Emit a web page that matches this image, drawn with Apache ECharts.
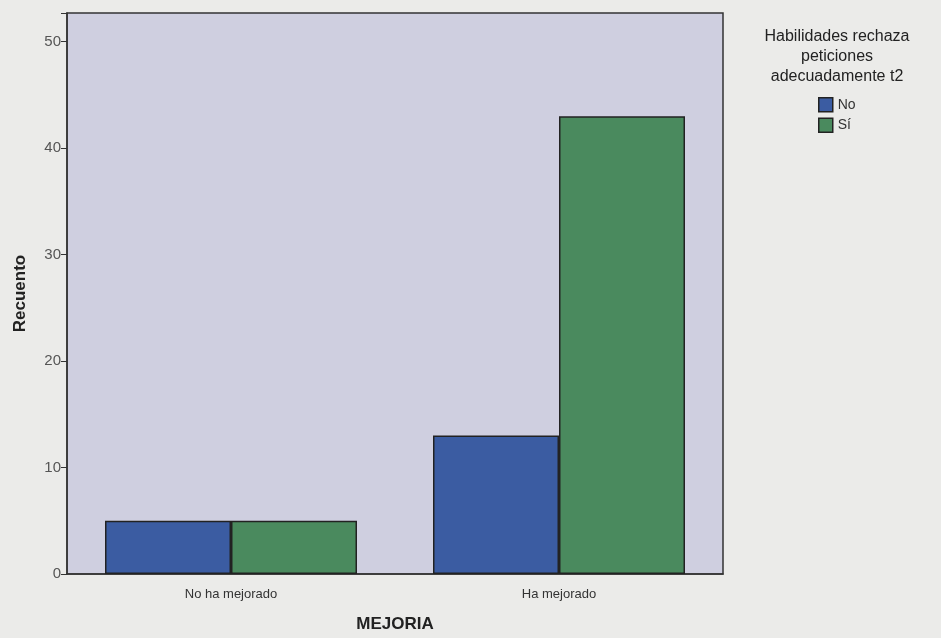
<!DOCTYPE html>
<html>
<head>
<meta charset="utf-8">
<script src="https://cdn.jsdelivr.net/npm/echarts@6/dist/echarts.min.js"></script>
<style>
  html, body { margin: 0; padding: 0; background: #ebebe9; }
  #main { width: 941px; height: 638px; }
</style>
</head>
<body>
<div id="main"></div>
<script>
// datos del grafico
var categorias = ['No ha mejorado', 'Ha mejorado'];
var serieNo = [5, 13];
var serieSi = [5, 43];
var nombresSerie = ['No', 'Sí'];
var tituloLeyenda = 'Habilidades rechaza\npeticiones\nadecuadamente t2';

var fuente = '"Liberation Sans", Arial, sans-serif';
var chart = echarts.init(document.getElementById('main'));

var option = {
  animation: false,
  backgroundColor: '#ebebe9',
  textStyle: { fontFamily: fuente },
  title: {
    text: tituloLeyenda,
    left: 832,
    top: 22,
    textAlign: 'center',
    textStyle: { fontSize: 16, fontWeight: 'normal', color: '#222', lineHeight: 20, fontFamily: fuente }
  },
  legend: {
    data: nombresSerie,
    orient: 'vertical',
    left: 813,
    top: 92,
    itemWidth: 14,
    itemHeight: 14,
    itemGap: 5,
    icon: 'rect',
    textStyle: { fontSize: 14, color: '#333', fontFamily: fuente },
    itemStyle: { borderColor: '#222', borderWidth: 1.5 }
  },
  grid: {
    left: 67,
    right: 218,
    top: 13,
    bottom: 62,
    show: true,
    backgroundColor: '#cfcfe0',
    borderColor: '#333',
    borderWidth: 1.5
  },
  xAxis: {
    type: 'category',
    data: categorias,
    name: 'MEJORIA',
    nameLocation: 'middle',
    nameGap: 42,
    nameTextStyle: { fontSize: 17, fontWeight: 'bold', color: '#222' },
    axisLine: { lineStyle: { color: '#333', width: 1.5 } },
    axisTick: { alignWithLabel: true, length: 10, lineStyle: { color: '#333' } },
    axisLabel: { fontSize: 13, color: '#333', margin: 14 }
  },
  yAxis: {
    type: 'value',
    min: 0,
    max: 52.7,
    interval: 10,
    name: 'Recuento',
    nameLocation: 'middle',
    nameGap: 38,
    nameTextStyle: { fontSize: 17, fontWeight: 'bold', color: '#222' },
    axisLine: { show: true, lineStyle: { color: '#333', width: 1.5 } },
    axisTick: { show: true, length: 6, lineStyle: { color: '#333' } },
    axisLabel: {
      fontSize: 15,
      color: '#555',
      margin: 6,
      formatter: function (v) { return v % 10 === 0 ? String(v) : ''; }
    },
    splitLine: { show: false }
  },
  series: [
    {
      name: nombresSerie[0],
      type: 'bar',
      data: serieNo,
      barWidth: 126,
      barGap: '0%',
      itemStyle: { color: '#3b5ca2', borderColor: '#222', borderWidth: 1.5 }
    },
    {
      name: nombresSerie[1],
      type: 'bar',
      data: serieSi,
      barWidth: 126,
      barGap: '0%',
      itemStyle: { color: '#4a8a5e', borderColor: '#222', borderWidth: 1.5 }
    }
  ]
};

chart.setOption(option);
</script>
</body>
</html>
